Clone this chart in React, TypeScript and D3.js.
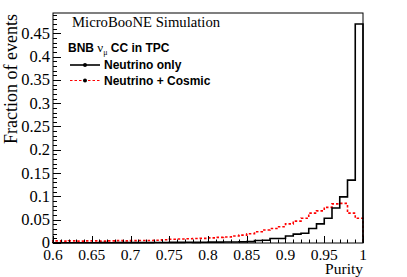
import React from "react";
import * as d3 from "d3";

// Bin lower edges: 0.60 ... 0.99, width 0.01
const binWidth = 0.01;
const binLows = d3.range(40).map((i) => +(0.6 + i * binWidth).toFixed(2));

const neutrinoOnly = [
  0.0004, 0.0005, 0.0004, 0.0006, 0.0005, 0.0006, 0.0007, 0.0006, 0.0008, 0.0007,
  0.0008, 0.0009, 0.0008, 0.001, 0.0012,
  0.0014, 0.0013, 0.0015, 0.0014, 0.0017,
  0.0018, 0.0019, 0.002, 0.0022, 0.0025,
  0.003, 0.0055,
  0.006, 0.0095, 0.0095,
  0.015, 0.019, 0.021, 0.031, 0.041, 0.053, 0.075, 0.099, 0.135, 0.47,
];

const neutrinoCosmic = [
  0.0045, 0.004, 0.0045, 0.004, 0.0045, 0.0045, 0.004, 0.0045, 0.005, 0.0045,
  0.005, 0.0055, 0.0055, 0.006, 0.007,
  0.008, 0.0085, 0.009, 0.0095, 0.01,
  0.011, 0.012, 0.013, 0.015, 0.017,
  0.02, 0.024,
  0.028, 0.031, 0.035,
  0.041, 0.047, 0.053, 0.064, 0.069, 0.0765, 0.084, 0.085, 0.064, 0.053,
];

const xTickLabels = ["0.6", "0.65", "0.7", "0.75", "0.8", "0.85", "0.9", "0.95", "1"];
const yTickLabels = ["0", "0.05", "0.1", "0.15", "0.2", "0.25", "0.3", "0.35", "0.4", "0.45"];

const W = 407;
const H = 277;
const M = { left: 53, right: 363, top: 13, bottom: 243 };

const x = d3.scaleLinear().domain([0.6, 1.0]).range([M.left, M.right]);
const y = d3.scaleLinear().domain([0, 0.4935]).range([M.bottom, M.top]);

function stepPath(vals: number[]): string {
  const p = d3.path();
  p.moveTo(x(binLows[0]), y(0));
  vals.forEach((v, i) => {
    const x0 = x(binLows[i]);
    const x1 = x(binLows[i] + binWidth);
    p.lineTo(x0, y(v));
    p.lineTo(x1, y(v));
  });
  p.lineTo(x(1.0), y(0));
  return p.toString();
}

const serif = "'Liberation Serif', 'Times New Roman', serif";
const sans = "'Liberation Sans', Arial, sans-serif";

export default function App() {
  const xMinor = d3.range(41).map((i) => 0.6 + i * 0.01);
  const yMinor = d3.range(0, 50).map((i) => i * 0.01);
  return (
    <svg
      width={W}
      height={H}
      style={{ position: "absolute", left: 0, top: 0, background: "#fff" }}
    >
      <rect x={0} y={0} width={W} height={H} fill="#fff" />
      {/* histograms */}
      <path d={stepPath(neutrinoCosmic)} fill="none" stroke="#ff0000" strokeWidth={1.6} strokeDasharray="2.5,2" />
      <path d={stepPath(neutrinoOnly)} fill="none" stroke="#000" strokeWidth={1.6} />

      {/* frame */}
      <rect
        x={M.left}
        y={M.top}
        width={M.right - M.left}
        height={M.bottom - M.top}
        fill="none"
        stroke="#000"
        strokeWidth={1}
      />

      {/* x ticks */}
      {xMinor.map((v, i) => {
        const major = i % 5 === 0;
        const xx = Math.round(x(v)) + 0.5;
        return (
          <line key={"xt" + i} x1={xx} x2={xx} y1={M.bottom} y2={M.bottom - (major ? 7 : 3.5)} stroke="#000" strokeWidth={1} />
        );
      })}
      {xTickLabels.map((t) => (
        <text key={"xl" + t} x={x(+t)} y={260} textAnchor="middle" fontFamily={serif} fontSize={15.5}>
          {t}
        </text>
      ))}
      <text x={M.right} y={274} textAnchor="end" fontFamily={serif} fontSize={15.5}>
        Purity
      </text>

      {/* y ticks */}
      {yMinor.map((v, i) => {
        const major = i % 5 === 0;
        const yy = Math.round(y(v)) + 0.5;
        return (
          <line key={"yt" + i} x1={M.left} x2={M.left + (major ? 8 : 4)} y1={yy} y2={yy} stroke="#000" strokeWidth={1} />
        );
      })}
      {yTickLabels.map((t) => (
        <text key={"yl" + t} x={50} y={y(+t)} dy="0.33em" textAnchor="end" fontFamily={serif} fontSize={16.5}>
          {t}
        </text>
      ))}
      <text
        transform={`translate(17, ${M.top + 1}) rotate(-90)`}
        textAnchor="end"
        fontFamily={serif}
        fontSize={18}
      >
        Fraction of events
      </text>

      {/* annotations / legend */}
      <text x={72} y={27} fontFamily={serif} fontSize={14.7}>
        MicroBooNE Simulation
      </text>
      <text x={68} y={52} fontFamily={sans} fontSize={12} fontWeight="bold">
        BNB{" "}
        <tspan fontFamily={serif} fontWeight="normal" fontSize={13}>ν</tspan>
        <tspan fontFamily={serif} fontWeight="normal" fontSize={8} dy={3}>μ</tspan>
        <tspan dy={-3}> CC in TPC</tspan>
      </text>
      <line x1={70} x2={100} y1={65} y2={65} stroke="#000" strokeWidth={1.6} />
      <circle cx={85} cy={65} r={2} fill="#000" />
      <text x={104} y={65} dy="0.36em" fontFamily={sans} fontSize={12} fontWeight="bold">
        Neutrino only
      </text>
      <line x1={70} x2={100} y1={80.5} y2={80.5} stroke="#ff0000" strokeWidth={1.2} strokeDasharray="2.5,2" />
      <circle cx={85} cy={80.5} r={2} fill="#000" />
      <text x={104} y={80.5} dy="0.36em" fontFamily={sans} fontSize={12} fontWeight="bold">
        Neutrino + Cosmic
      </text>
    </svg>
  );
}
